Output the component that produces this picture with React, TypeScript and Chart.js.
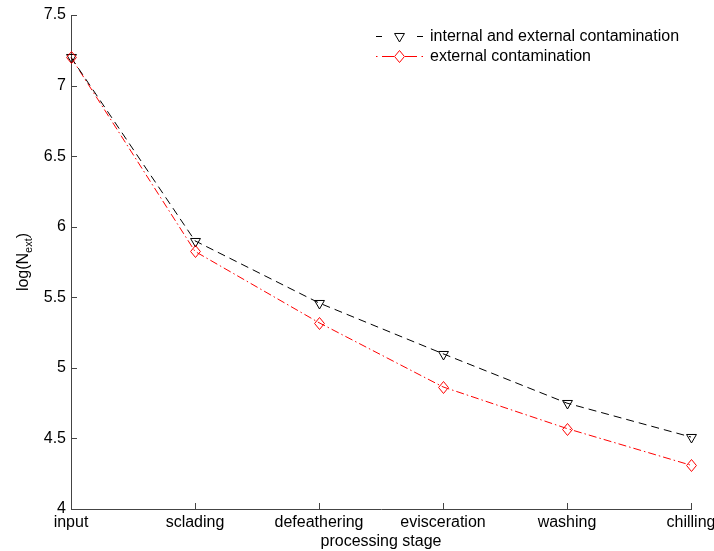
import React, { useEffect, useRef } from 'react';
import { Chart, registerables } from 'chart.js';

Chart.register(...registerables);

const categories = ['input', 'sclading', 'defeathering', 'evisceration', 'washing', 'chilling'];
const internalAndExternal = [7.2, 5.9, 5.46, 5.1, 4.75, 4.51];
const externalOnly = [7.2, 5.825, 5.32, 4.865, 4.57, 4.31];
const seriesLabels = ['internal and external contamination', 'external contamination'];
const xTitle = 'processing stage';
const yTitleMain = 'log(N';
const yTitleSub = 'ext';
const yTitleEnd = ')';

const FONT = '"Liberation Sans", Arial, Helvetica, sans-serif';
const FONT_SIZE = 16;
const AXIS_COLOR = '#444';
const BLACK_DASH = [8, 5];
const RED_DASH = [8, 3, 1.5, 3];

function drawTriangleDown(ctx: CanvasRenderingContext2D, x: number, y: number, r: number) {
  ctx.beginPath();
  ctx.moveTo(x - r * 0.9, y - r * 0.55);
  ctx.lineTo(x + r * 0.9, y - r * 0.55);
  ctx.lineTo(x, y + r);
  ctx.closePath();
  ctx.stroke();
}

function drawDiamond(ctx: CanvasRenderingContext2D, x: number, y: number, r: number) {
  ctx.beginPath();
  ctx.moveTo(x, y - r);
  ctx.lineTo(x + r * 0.82, y);
  ctx.lineTo(x, y + r);
  ctx.lineTo(x - r * 0.82, y);
  ctx.closePath();
  ctx.stroke();
}

function seg(ctx: CanvasRenderingContext2D, x1: number, x2: number, y: number) {
  ctx.beginPath();
  ctx.moveTo(x1, y);
  ctx.lineTo(x2, y);
  ctx.stroke();
}

const markerPlugin = {
  id: 'markers',
  afterDatasetsDraw(chart: any) {
    const ctx: CanvasRenderingContext2D = chart.ctx;
    ctx.save();
    ctx.setLineDash([]);
    ctx.lineWidth = 1;
    chart.data.datasets.forEach((ds: any, di: number) => {
      const meta = chart.getDatasetMeta(di);
      ctx.strokeStyle = ds.borderColor;
      meta.data.forEach((pt: any) => {
        const x = Math.round(pt.x) + 0.5;
        const y = Math.round(pt.y) + 0.5;
        if (di === 0) drawTriangleDown(ctx, x, y, 5.5);
        else drawDiamond(ctx, x, y, 6);
      });
    });
    ctx.restore();
  },
};

const decorPlugin = {
  id: 'decor',
  afterDraw(chart: any) {
    const ctx: CanvasRenderingContext2D = chart.ctx;
    const area = chart.chartArea;
    const xs = chart.scales.x;
    const ys = chart.scales.y;
    ctx.save();
    // inward ticks
    ctx.strokeStyle = AXIS_COLOR;
    ctx.lineWidth = 1;
    ctx.setLineDash([]);
    ys.ticks.forEach((t: any) => {
      const py = Math.round(ys.getPixelForValue(t.value)) + 0.5;
      ctx.beginPath();
      ctx.moveTo(area.left, py);
      ctx.lineTo(area.left + 6, py);
      ctx.stroke();
    });
    categories.forEach((_c, i) => {
      const px = Math.round(xs.getPixelForValue(i)) + 0.5;
      ctx.beginPath();
      ctx.moveTo(px, area.bottom);
      ctx.lineTo(px, area.bottom - 6);
      ctx.stroke();
    });

    // x title
    ctx.fillStyle = '#000';
    ctx.font = `${FONT_SIZE}px ${FONT}`;
    ctx.textAlign = 'center';
    ctx.textBaseline = 'middle';
    ctx.fillText(xTitle, (area.left + area.right) / 2, 542);

    // y title with subscript
    ctx.save();
    ctx.translate(23, (area.top + area.bottom) / 2);
    ctx.rotate(-Math.PI / 2);
    ctx.font = `${FONT_SIZE}px ${FONT}`;
    const w1 = ctx.measureText(yTitleMain).width;
    ctx.font = `11px ${FONT}`;
    const w2 = ctx.measureText(yTitleSub).width;
    ctx.font = `${FONT_SIZE}px ${FONT}`;
    const w3 = ctx.measureText(yTitleEnd).width;
    const total = w1 + w2 + w3;
    let cx = -total / 2;
    ctx.textAlign = 'left';
    ctx.textBaseline = 'alphabetic';
    ctx.fillText(yTitleMain, cx, 5);
    cx += w1;
    ctx.font = `11px ${FONT}`;
    ctx.fillText(yTitleSub, cx, 9);
    cx += w2;
    ctx.font = `${FONT_SIZE}px ${FONT}`;
    ctx.fillText(yTitleEnd, cx, 5);
    ctx.restore();

    // legend
    ctx.lineWidth = 1;
    ctx.setLineDash([]);
    // row 1: black dashed with down-triangle
    const y1 = 36.5;
    ctx.strokeStyle = '#000';
    seg(ctx, 376, 382, y1);
    seg(ctx, 417, 423, y1);
    drawTriangleDown(ctx, 399.5, y1, 5.5);
    // row 2: red dash-dot with diamond
    const y2 = 56.5;
    ctx.strokeStyle = '#ff0000';
    seg(ctx, 376, 377.5, y2);
    seg(ctx, 382, 394, y2);
    seg(ctx, 405, 417, y2);
    seg(ctx, 421.5, 423, y2);
    drawDiamond(ctx, 399.5, y2, 6);

    ctx.fillStyle = '#000';
    ctx.font = `${FONT_SIZE}px ${FONT}`;
    ctx.textAlign = 'left';
    ctx.textBaseline = 'middle';
    ctx.fillText(seriesLabels[0], 430, y1);
    ctx.fillText(seriesLabels[1], 430, y2);
    ctx.restore();
  },
};

export default function App() {
  const ref = useRef<HTMLCanvasElement>(null);
  useEffect(() => {
    if (!ref.current) return;
    const chart = new Chart(ref.current, {
      type: 'line',
      data: {
        labels: categories,
        datasets: [
          {
            label: seriesLabels[0],
            data: internalAndExternal,
            borderColor: '#000',
            borderWidth: 1,
            borderDash: BLACK_DASH,
            pointRadius: 0,
            tension: 0,
            fill: false,
          },
          {
            label: seriesLabels[1],
            data: externalOnly,
            borderColor: '#ff0000',
            borderWidth: 1,
            borderDash: RED_DASH,
            pointRadius: 0,
            tension: 0,
            fill: false,
          },
        ],
      },
      options: {
        animation: false,
        responsive: false,
        maintainAspectRatio: false,
        layout: { padding: { left: 0, right: 23, top: 15, bottom: 0 } },
        plugins: {
          legend: { display: false },
          tooltip: { enabled: false },
          title: { display: false },
        },
        scales: {
          x: {
            type: 'category',
            offset: false,
            grid: { display: false, drawTicks: false },
            border: { display: true, color: AXIS_COLOR, width: 1 },
            ticks: {
              font: { family: FONT, size: FONT_SIZE },
              color: '#000',
              padding: 4,
              maxRotation: 0,
              autoSkip: false,
            },
            afterFit: (s: any) => {
              s.height = 42;
              s.paddingRight = 0;
              s.paddingLeft = 0;
            },
          },
          y: {
            min: 4,
            max: 7.5,
            grid: { display: false, drawTicks: false },
            border: { display: true, color: AXIS_COLOR, width: 1 },
            ticks: {
              stepSize: 0.5,
              font: { family: FONT, size: FONT_SIZE },
              color: '#000',
              padding: 5,
              callback: (v: any) => `${Number(v)}`,
            },
            afterFit: (s: any) => {
              s.width = 71;
              s.paddingTop = 0;
              s.paddingBottom = 0;
            },
          },
        },
      },
      plugins: [markerPlugin, decorPlugin],
    });
    return () => chart.destroy();
  }, []);
  return (
    <div style={{ position: 'fixed', left: 0, top: 0, width: 714, height: 551, background: '#fff' }}>
      <canvas ref={ref} width={714} height={551} style={{ display: 'block' }} />
    </div>
  );
}
